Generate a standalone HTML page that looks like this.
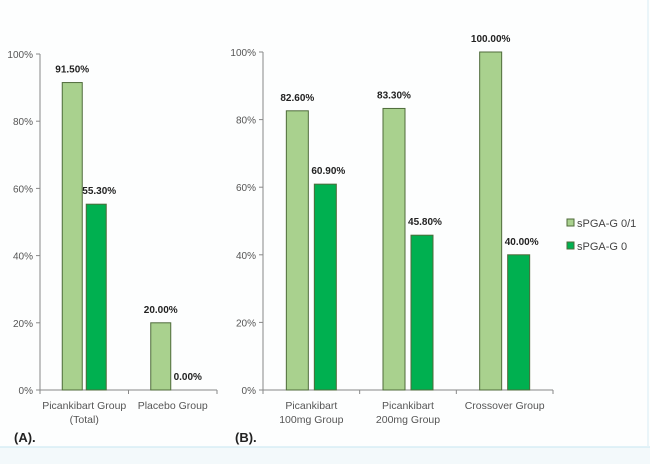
<!DOCTYPE html>
<html><head><meta charset="utf-8"><style>
body{margin:0;background:#fff;}
svg{display:block;font-family:"Liberation Sans",sans-serif;}
</style></head><body>
<svg id="chart" width="650" height="464" viewBox="0 0 650 464">
<rect x="0" y="0" width="650" height="464" fill="#fdfefe"/>
<rect x="0" y="447" width="650" height="17" fill="#f3f9fb"/>
<line x1="0" y1="447" x2="650" y2="447" stroke="#d8eef5" stroke-width="1.5"/>
<line x1="648" y1="0" x2="648" y2="447" stroke="#e3f2f7" stroke-width="1.5"/>
<text x="14" y="442" font-size="13" font-weight="bold" fill="#222">(A).</text>
<text x="235" y="442" font-size="13" font-weight="bold" fill="#222">(B).</text>
<g id="pa"></g><g id="pb"></g><g id="legend"></g>
</svg>
<script>
const catsA=[["Picankibart  Group","(Total)"],["Placebo Group"]];
const lightA=[91.5,20.0];
const darkA=[55.3,0.0];
const catsB=[["Picankibart","100mg Group"],["Picankibart","200mg Group"],["Crossover Group"]];
const lightB=[82.6,83.3,100.0];
const darkB=[60.9,45.8,40.0];
const ticks=[0,20,40,60,80,100];
const seriesNames=["sPGA-G 0/1","sPGA-G 0"];
const NS="http://www.w3.org/2000/svg";
function mk(parent,tag,attrs,txt){const e=document.createElementNS(NS,tag);for(const k in attrs)e.setAttribute(k,attrs[k]);if(txt!=null)e.textContent=txt;parent.appendChild(e);return e;}
const colors=["#a9d18e","#00b050"];
function panel(g,x0,x1,yTop,yBot,cats,light,dark,bw,gap,id){
  const y=v=>yBot-(v/100)*(yBot-yTop);
  const cw=(x1-x0)/cats.length;
  const ax=mk(g,'line',{x1:x0,y1:yTop,x2:x0,y2:yBot,stroke:'#888'});
  
  
  ticks.forEach(t=>{
    mk(g,'line',{x1:x0-4,y1:y(t),x2:x0,y2:y(t),stroke:'#888'});
    const tl=mk(g,'text',{x:x0-7,y:y(t)+4,'font-size':10,'text-anchor':'end',fill:'#555'},t+'%');
    
    
  });
  const xa=mk(g,'line',{x1:x0,y1:yBot,x2:x1,y2:yBot,stroke:'#888'});
  
  
  for(let i=0;i<=cats.length;i++)mk(g,'line',{x1:x0+i*cw,y1:yBot,x2:x0+i*cw,y2:yBot+4,stroke:'#888'});
  cats.forEach((c,i)=>{
    const cx=x0+(i+0.5)*cw;
    [[light[i],0],[dark[i],1]].forEach(([v,s])=>{
      const bx=s===0?cx-gap/2-bw:cx+gap/2;
      if(v>0){
        const r=mk(g,'rect',{x:bx,y:y(v),width:bw,height:yBot-y(v),fill:colors[s],stroke:'#4e6b3a','stroke-width':1});
        
        
      }
      const l=mk(g,'text',{x:bx+bw/2+(s===1?3:0),y:y(v)-(s===0?10:10),'font-size':10,'font-weight':'bold','text-anchor':'middle',fill:'#222'},v.toFixed(2)+'%');
      
      
    });
    c.forEach((ln,j)=>{
      const t=mk(g,'text',{x:cx,y:yBot+19+j*14,'font-size':10.5,'text-anchor':'middle',fill:'#555'},ln);
      
      
    });
  });
}
panel(document.getElementById('pa'),40,217,54,390,catsA,lightA,darkA,20,4,'panel-a');
panel(document.getElementById('pb'),263,553,52,390,catsB,lightB,darkB,22,6,'panel-b');
const lg=document.getElementById('legend');
seriesNames.forEach((n,i)=>{
  const yy=219+i*23;
  const sw=mk(lg,'rect',{x:567,y:yy,width:7,height:7,fill:colors[i],stroke:'#4e6b3a'});
  
  
  const t=mk(lg,'text',{x:577,y:yy+8,'font-size':11,fill:'#444'},n);
  
  
});
</script>
</body></html>
